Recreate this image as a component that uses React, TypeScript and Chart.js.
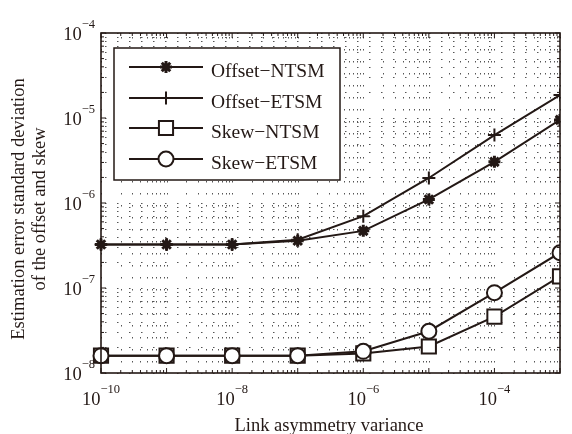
import React, { useEffect, useRef } from 'react';
import { Chart, registerables } from 'chart.js';

Chart.register(...registerables);

// ---------- data ----------
const xValues = [1e-10, 1e-9, 1e-8, 1e-7, 1e-6, 1e-5, 1e-4, 1e-3];
const offsetNTSM = [3.25e-7, 3.25e-7, 3.25e-7, 3.6e-7, 4.7e-7, 1.1e-6, 3.05e-6, 9.5e-6];
const offsetETSM = [3.25e-7, 3.25e-7, 3.25e-7, 3.7e-7, 7.0e-7, 1.97e-6, 6.3e-6, 1.86e-5];
const skewNTSM = [1.6e-8, 1.6e-8, 1.6e-8, 1.6e-8, 1.7e-8, 2.05e-8, 4.6e-8, 1.37e-7];
const skewETSM = [1.6e-8, 1.6e-8, 1.6e-8, 1.6e-8, 1.8e-8, 3.1e-8, 8.8e-8, 2.6e-7];
const seriesLabels = ['Offset\u2212NTSM', 'Offset\u2212ETSM', 'Skew\u2212NTSM', 'Skew\u2212ETSM'];
const xTickExponents = [-10, -8, -6, -4];
const yTickExponents = [-8, -7, -6, -5, -4];
const xTitle = 'Link asymmetry variance';
const yTitleLines = ['Estimation error standard deviation', 'of the offset and skew'];
const X_MIN = 1e-10;
const X_MAX = 1e-3;
const Y_MIN = 1e-8;
const Y_MAX = 1e-4;

// ---------- styles ----------
const INK = '#231815';
const FONT = '"Liberation Serif", "Times New Roman", serif';
const markerStyles = ['star', 'cross', 'rect', 'circle'];
const markerRadii = [6, 6.5, 10, 7.5];
const markerWidths = [3, 2, 2, 2];

function drawMarker(ctx: CanvasRenderingContext2D, style: string, x: number, y: number, r: number, w: number) {
  ctx.lineWidth = w;
  ctx.beginPath();
  if (style === 'star') {
    const d = r * Math.SQRT1_2;
    ctx.moveTo(x - r, y); ctx.lineTo(x + r, y);
    ctx.moveTo(x, y - r); ctx.lineTo(x, y + r);
    ctx.moveTo(x - d, y - d); ctx.lineTo(x + d, y + d);
    ctx.moveTo(x - d, y + d); ctx.lineTo(x + d, y - d);
    ctx.stroke();
  } else if (style === 'cross') {
    ctx.moveTo(x - r, y); ctx.lineTo(x + r, y);
    ctx.moveTo(x, y - r); ctx.lineTo(x, y + r);
    ctx.stroke();
  } else if (style === 'rect') {
    const s = r * Math.SQRT1_2;
    ctx.rect(x - s, y - s, 2 * s, 2 * s);
    ctx.fillStyle = '#ffffff';
    ctx.fill();
    ctx.stroke();
  } else {
    ctx.arc(x, y, r, 0, Math.PI * 2);
    ctx.fillStyle = '#ffffff';
    ctx.fill();
    ctx.stroke();
  }
}

function drawPow(ctx: CanvasRenderingContext2D, exp: number, x: number, baseline: number, align: 'center' | 'right') {
  const base = '10';
  const sup = '\u2212' + String(Math.abs(exp));
  ctx.font = `18.5px ${FONT}`;
  const wb = ctx.measureText(base).width;
  ctx.font = `12.5px ${FONT}`;
  const ws = ctx.measureText(sup).width;
  const total = wb + ws;
  const start = align === 'center' ? x - total / 2 : x - total;
  ctx.textAlign = 'left';
  ctx.textBaseline = 'alphabetic';
  ctx.fillStyle = INK;
  ctx.font = `18.5px ${FONT}`;
  ctx.fillText(base, start, baseline);
  ctx.font = `12.5px ${FONT}`;
  ctx.fillText(sup, start + wb, baseline - 12);
}

function logMinorValues(min: number, max: number): { v: number; major: boolean }[] {
  const out: { v: number; major: boolean }[] = [];
  const e0 = Math.round(Math.log10(min));
  const e1 = Math.round(Math.log10(max));
  for (let e = e0; e <= e1; e++) {
    for (let m = 1; m <= 9; m++) {
      const v = m * Math.pow(10, e);
      if (v < min * 0.999 || v > max * 1.001) continue;
      out.push({ v, major: m === 1 });
    }
  }
  return out;
}

const decorPlugin = {
  id: 'decor',
  beforeDatasetsDraw(chart: any) {
    const { ctx, chartArea: a, scales } = chart;
    ctx.save();
    ctx.strokeStyle = '#555555';
    ctx.lineWidth = 1;
    ctx.setLineDash([1.5, 10.5]);
    for (const t of logMinorValues(X_MIN, X_MAX)) {
      const px = Math.round(scales.x.getPixelForValue(t.v)) + 0.5;
      ctx.beginPath();
      ctx.moveTo(px, a.top + 4);
      ctx.lineTo(px, a.bottom);
      ctx.stroke();
    }
    for (const t of logMinorValues(Y_MIN, Y_MAX)) {
      const py = Math.round(scales.y.getPixelForValue(t.v)) + 0.5;
      ctx.beginPath();
      ctx.moveTo(a.left + 4, py);
      ctx.lineTo(a.right, py);
      ctx.stroke();
    }
    ctx.restore();
  },
  afterDatasetsDraw(chart: any) {
    const { ctx, chartArea: a, scales } = chart;
    ctx.save();
    ctx.setLineDash([]);
    ctx.strokeStyle = INK;
    // ticks (inward, all sides)
    ctx.lineWidth = 1;
    for (const t of logMinorValues(X_MIN, X_MAX)) {
      const px = scales.x.getPixelForValue(t.v);
      const len = t.major ? 5 : 3;
      ctx.beginPath();
      ctx.moveTo(px, a.bottom); ctx.lineTo(px, a.bottom - len);
      ctx.moveTo(px, a.top); ctx.lineTo(px, a.top + len);
      ctx.stroke();
    }
    for (const t of logMinorValues(Y_MIN, Y_MAX)) {
      const py = scales.y.getPixelForValue(t.v);
      const len = t.major ? 5 : 3;
      ctx.beginPath();
      ctx.moveTo(a.left, py); ctx.lineTo(a.left + len, py);
      ctx.moveTo(a.right, py); ctx.lineTo(a.right - len, py);
      ctx.stroke();
    }
    // frame
    ctx.lineWidth = 1.6;
    ctx.strokeRect(a.left, a.top, a.right - a.left, a.bottom - a.top);

    // tick labels
    for (const e of xTickExponents) {
      drawPow(ctx, e, scales.x.getPixelForValue(Math.pow(10, e)), a.bottom + 32, 'center');
    }
    for (const e of yTickExponents) {
      drawPow(ctx, e, a.left - 6, scales.y.getPixelForValue(Math.pow(10, e)) + 7, 'right');
    }

    // axis titles
    ctx.fillStyle = INK;
    ctx.font = `18.5px ${FONT}`;
    ctx.textAlign = 'center';
    ctx.textBaseline = 'alphabetic';
    ctx.fillText(xTitle, 329, 431);
    ctx.save();
    ctx.translate(0, 209);
    ctx.rotate(-Math.PI / 2);
    ctx.textBaseline = 'middle';
    ctx.fillText(yTitleLines[0], 0, 19);
    ctx.fillText(yTitleLines[1], 0, 40);
    ctx.restore();

    // legend
    const lx = 114, ly = 48, lw = 226, lh = 132;
    ctx.fillStyle = '#ffffff';
    ctx.fillRect(lx, ly, lw, lh);
    ctx.lineWidth = 1.5;
    ctx.strokeStyle = INK;
    ctx.strokeRect(lx, ly, lw, lh);
    const rows = [67, 98, 128, 159];
    chart.data.datasets.forEach((ds: any, i: number) => {
      const y = rows[i];
      ctx.strokeStyle = INK;
      ctx.lineWidth = 2;
      ctx.beginPath();
      ctx.moveTo(129, y);
      ctx.lineTo(203, y);
      ctx.stroke();
      drawMarker(ctx, markerStyles[i], 166, y, markerRadii[i], markerWidths[i]);
      ctx.fillStyle = INK;
      ctx.font = `19.5px ${FONT}`;
      ctx.textAlign = 'left';
      ctx.textBaseline = 'alphabetic';
      ctx.fillText(ds.label, 211, y + 10);
    });
    ctx.restore();
  },
};

export default function App() {
  const ref = useRef<HTMLCanvasElement | null>(null);
  useEffect(() => {
    if (!ref.current) return;
    const series = [offsetNTSM, offsetETSM, skewNTSM, skewETSM];
    const chart = new Chart(ref.current, {
      type: 'scatter',
      data: {
        datasets: series.map((vals, i) => ({
          label: seriesLabels[i],
          data: xValues.map((x, j) => ({ x, y: vals[j] })),
          showLine: true,
          borderColor: INK,
          borderWidth: 2,
          pointStyle: markerStyles[i] as any,
          pointRadius: markerRadii[i],
          pointHoverRadius: markerRadii[i],
          pointBorderWidth: markerWidths[i],
          pointBorderColor: INK,
          pointBackgroundColor: '#ffffff',
          order: 3 - i,
          clip: { left: 15, top: 15, right: 0, bottom: 15 } as any,
        })),
      },
      options: {
        animation: false,
        responsive: false,
        devicePixelRatio: 1,
        layout: { padding: { left: 101, top: 33, right: 3, bottom: 61 } },
        plugins: { legend: { display: false }, tooltip: { enabled: false } },
        events: [],
        scales: {
          x: { type: 'logarithmic', min: X_MIN, max: X_MAX, display: false },
          y: { type: 'logarithmic', min: Y_MIN, max: Y_MAX, display: false },
        },
      },
      plugins: [decorPlugin],
    });
    return () => chart.destroy();
  }, []);
  return (
    <div style={{ position: 'fixed', left: 0, top: 0, width: 572, height: 434, background: '#ffffff' }}>
      <canvas ref={ref} width={572} height={434} />
    </div>
  );
}
